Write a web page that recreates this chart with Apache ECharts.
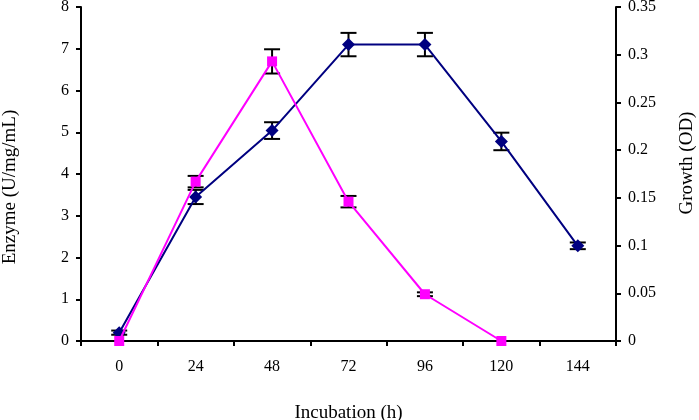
<!DOCTYPE html>
<html><head><meta charset="utf-8">
<script src="https://cdn.jsdelivr.net/npm/echarts@6/dist/echarts.min.js"></script>
<style>html,body{margin:0;padding:0;background:#fff}#c{width:699px;height:420px}</style>
</head><body><div id="c"></div>
<script>
const categories = ['0','24','48','72','96','120','144'];
const enzyme = [0.2, 3.45, 5.04, 7.1, 7.1, 4.78, 2.28];
const enzymeErr = [0.05, 0.17, 0.2, 0.28, 0.28, 0.21, 0.08];
const growth = [0, 0.167, 0.293, 0.146, 0.049, 0];
const growthErr = [0, 0.006, 0.0127, 0.006, 0.002, 0];
const leftTicks = {min:0, max:8, interval:1};
const rightTicks = {min:0, max:0.35, interval:0.05};

const FONT = 'Liberation Serif';
const chart = echarts.init(document.getElementById('c'), null, {renderer:'canvas'});

function errSeries(vals, errs, yIndex){
  return {
    type:'custom', yAxisIndex:yIndex, z:2,
    data: vals.map((v,i)=>[i, v, errs[i]]),
    renderItem: function(params, api){
      const x = api.value(0), v = api.value(1), e = api.value(2);
      if (!e) return null;
      const top = api.coord([x, v+e]), bot = api.coord([x, v-e]);
      const w = 8;
      const st = {stroke:'#000', lineWidth:2};
      return {type:'group', children:[
        {type:'line', shape:{x1:top[0],y1:top[1],x2:bot[0],y2:bot[1]}, style:st},
        {type:'line', shape:{x1:top[0]-w,y1:top[1],x2:top[0]+w,y2:top[1]}, style:st},
        {type:'line', shape:{x1:bot[0]-w,y1:bot[1],x2:bot[0]+w,y2:bot[1]}, style:st}
      ]};
    }
  };
}

const axisLine = {show:true, lineStyle:{color:'#000', width:2}};
const axisLabel = {color:'#000', fontFamily:FONT, fontSize:16};
const nameStyle = {color:'#000', fontFamily:FONT, fontSize:19};

chart.setOption({
  animation:false,
  backgroundColor:'#fff',
  grid:{left:81, right:83, top:7, bottom:79, containLabel:false, outerBoundsMode:'none'},
  xAxis:{type:'category', data:categories, boundaryGap:true,
    axisLine:axisLine, axisTick:{show:true, length:5, lineStyle:{color:'#000', width:2}},
    axisLabel:Object.assign({margin:18}, axisLabel),
    name:'Incubation (h)', nameLocation:'middle', nameGap:63, nameTextStyle:nameStyle},
  yAxis:[
    {type:'value', min:leftTicks.min, max:leftTicks.max, interval:leftTicks.interval,
     axisLine:axisLine, axisTick:{show:true, length:5, lineStyle:{color:'#000', width:2}},
     splitLine:{show:false}, axisLabel:Object.assign({margin:12}, axisLabel),
     name:'Enzyme (U/mg/mL)', nameLocation:'middle', nameGap:61,
     nameTextStyle:Object.assign({padding:[0,26,0,0]}, nameStyle)},
    {type:'value', min:rightTicks.min, max:rightTicks.max, interval:rightTicks.interval, position:'right',
     axisLine:axisLine, axisTick:{show:true, length:5, lineStyle:{color:'#000', width:2}},
     splitLine:{show:false}, axisLabel:Object.assign({margin:12, formatter:v=>String(+v.toFixed(2))}, axisLabel),
     name:'Growth (OD)', nameLocation:'middle', nameGap:62,
     nameTextStyle:Object.assign({padding:[0,0,0,22]}, nameStyle)}
  ],
  series:[
    {type:'line', name:'Enzyme', yAxisIndex:0, data:enzyme, z:3,
     symbol:'diamond', symbolSize:13, itemStyle:{color:'#000080'},
     lineStyle:{color:'#000080', width:2}},
    {type:'line', name:'Growth', yAxisIndex:1, data:growth, z:4,
     symbol:'rect', symbolSize:10, itemStyle:{color:'#ff00ff'},
     lineStyle:{color:'#ff00ff', width:2}},
    errSeries(enzyme, enzymeErr, 0),
    errSeries(growth, growthErr, 1)
  ]
});
</script></body></html>
